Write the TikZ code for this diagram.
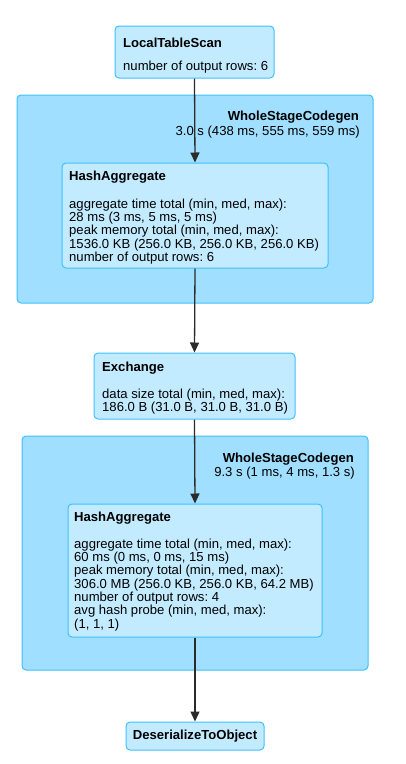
\documentclass[tikz,border=0pt]{standalone}
\usepackage{fontspec}
\setmainfont{Liberation Sans}
\usepackage{xcolor}
\usetikzlibrary{arrows.meta}
\frenchspacing

\definecolor{stagefill}{HTML}{A0DFFF}
\definecolor{opfill}{HTML}{C3EBFF}
\definecolor{boxline}{HTML}{3EC0FF}
\definecolor{flowline}{HTML}{2B2B2B}

\begin{document}
\begin{tikzpicture}[
		x=1pt, y=-1pt,
		stage/.style={rectangle, draw=boxline, fill=stagefill, rounded corners=4pt, line width=1pt},
		opbox/.style={rectangle, draw=boxline, fill=opfill, rounded corners=4pt, line width=1pt},
		optitle/.style={anchor=west, inner sep=0pt, font=\fontsize{13.1}{13.3}\selectfont\bfseries},
		optext/.style={anchor=north west, inner sep=0pt, align=left, font=\fontsize{13.1}{13.3}\selectfont},
		stagelabel/.style={anchor=east, inner sep=0pt, font=\fontsize{13.1}{13.3}\selectfont},
		flow/.style={-{Triangle[width=9pt, length=10pt]}, draw=flowline, line width=1.3pt}
		]
		\useasboundingbox (0,0) rectangle (406,764);

		% code generation stages
		\node[stage, minimum width=356pt, minimum height=208pt] (wsc1) at (195,199) {};
		\node[stage, minimum width=346pt, minimum height=234pt] (wsc2) at (195,553) {};

		\node[stagelabel, font=\fontsize{13.1}{13.3}\selectfont\bfseries] (wsc1name) at (359,117) {WholeStageCodegen};
		\node[stagelabel] (wsc1time) at (360,132) {3.0 s (438 ms, 555 ms, 559 ms)};
		\node[stagelabel, font=\fontsize{13.1}{13.3}\selectfont\bfseries] (wsc2name) at (354,459) {WholeStageCodegen};
		\node[stagelabel] (wsc2time) at (355,473) {9.3 s (1 ms, 4 ms, 1.3 s)};

		% operators
		\node[opbox, minimum width=159pt, minimum height=52pt] (scan) at (194.5,52) {};
		\node[optitle] (scantitle) at (123,43) {LocalTableScan};
		\node[optext] (scantext) at (123,60.5) {number of output rows: 6};

		\node[opbox, minimum width=266pt, minimum height=105pt] (agg1) at (195,215.5) {};
		\node[optitle] (agg1title) at (69,177) {HashAggregate};
		\node[optext] (agg1text) at (69,198.5) {aggregate time total (min, med, max):\\
			28 ms (3 ms, 5 ms, 5 ms)\\
			peak memory total (min, med, max):\\
			1536.0 KB (256.0 KB, 256.0 KB, 256.0 KB)\\
			number of output rows: 6};

		\node[opbox, minimum width=201pt, minimum height=66pt] (exch) at (194.5,386) {};
		\node[optitle] (exchtitle) at (102,368) {Exchange};
		\node[optext] (exchtext) at (102,388.5) {data size total (min, med, max):\\
			186.0 B (31.0 B, 31.0 B, 31.0 B)};

		\node[opbox, minimum width=254pt, minimum height=133pt] (agg2) at (195,570.5) {};
		\node[optitle] (agg2title) at (74,518) {HashAggregate};
		\node[optext] (agg2text) at (74,538.5) {aggregate time total (min, med, max):\\
			60 ms (0 ms, 0 ms, 15 ms)\\
			peak memory total (min, med, max):\\
			306.0 MB (256.0 KB, 256.0 KB, 64.2 MB)\\
			number of output rows: 4\\
			avg hash probe (min, med, max):\\
			(1, 1, 1)};

		\node[opbox, minimum width=138pt, minimum height=28pt, font=\fontsize{13.1}{13.3}\selectfont\bfseries] (deser) at (195,736) {DeserializeToObject};

		% data flow
		\draw[flow] (scan.south) -- (agg1.north);
		\draw[flow] (agg1.south) -- (exch.north);
		\draw[flow] (exch.south) -- (agg2.north);
		\draw[flow] (agg2.south) -- (deser.north);
	\end{tikzpicture}
\end{document}
